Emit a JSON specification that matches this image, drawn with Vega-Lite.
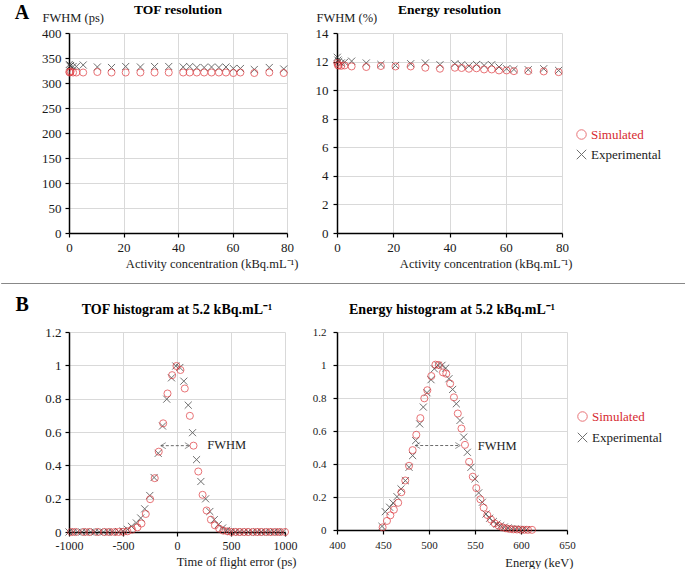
{
  "$schema": "https://vega.github.io/schema/vega-lite/v6.json",
  "background": "white",
  "padding": {"left": 0, "top": 2, "right": 0, "bottom": 0},
  "config": {
    "font": "Liberation Serif",
    "view": {"stroke": null},
    "axis": {
      "domainColor": "#000", "domainWidth": 1.5,
      "tickColor": "#000", "tickWidth": 1.2, "tickSize": 4,
      "gridColor": "#d9d9d9", "gridWidth": 1,
      "labelFont": "Liberation Serif", "labelFontSize": 13, "labelColor": "#1a1a1a",
      "labelPadding": 4, "labelFlush": false, "labelOverlap": false,
      "titleFont": "Liberation Serif", "titleFontSize": 12.5, "titleFontWeight": "normal", "titleColor": "#1a1a1a"
    },
    "title": {"font": "Liberation Serif", "fontSize": 13.5, "fontWeight": "bold", "color": "#000"},
    "legend": {"orient": "none", "title": null, "symbolSize": 90, "symbolStrokeWidth": 1.2, "labelFont": "Liberation Serif", "labelFontSize": 13, "labelOffset": 3,
      "labelColor": {"expr": "datum.label === 'Simulated' ? '#d62a2f' : '#222222'"}},
    "point": {"filled": false, "size": 50, "strokeWidth": 1}
  },
  "datasets": {
    "tofres": [
      {"series": "Experimental", "x": 0.1, "y": 337}, {"series": "Experimental", "x": 0.3, "y": 334}, {"series": "Experimental", "x": 0.6, "y": 335},
      {"series": "Experimental", "x": 1.5, "y": 333}, {"series": "Experimental", "x": 2.7, "y": 333}, {"series": "Experimental", "x": 5.2, "y": 336},
      {"series": "Experimental", "x": 10.4, "y": 332}, {"series": "Experimental", "x": 15.6, "y": 331}, {"series": "Experimental", "x": 20.8, "y": 333},
      {"series": "Experimental", "x": 26.2, "y": 332}, {"series": "Experimental", "x": 31.4, "y": 333}, {"series": "Experimental", "x": 36.6, "y": 333},
      {"series": "Experimental", "x": 41.9, "y": 332}, {"series": "Experimental", "x": 44.3, "y": 333}, {"series": "Experimental", "x": 46.9, "y": 331},
      {"series": "Experimental", "x": 49.6, "y": 331}, {"series": "Experimental", "x": 52.3, "y": 332}, {"series": "Experimental", "x": 55.0, "y": 331},
      {"series": "Experimental", "x": 57.6, "y": 332}, {"series": "Experimental", "x": 60.3, "y": 329}, {"series": "Experimental", "x": 62.9, "y": 329},
      {"series": "Experimental", "x": 68.0, "y": 327}, {"series": "Experimental", "x": 73.5, "y": 331}, {"series": "Experimental", "x": 78.8, "y": 328},
      {"series": "Simulated", "x": 0.1, "y": 322}, {"series": "Simulated", "x": 0.3, "y": 321}, {"series": "Simulated", "x": 0.6, "y": 323},
      {"series": "Simulated", "x": 1.5, "y": 321}, {"series": "Simulated", "x": 2.7, "y": 321}, {"series": "Simulated", "x": 5.2, "y": 321},
      {"series": "Simulated", "x": 10.4, "y": 322}, {"series": "Simulated", "x": 15.6, "y": 321}, {"series": "Simulated", "x": 20.8, "y": 321},
      {"series": "Simulated", "x": 26.2, "y": 321}, {"series": "Simulated", "x": 31.4, "y": 321}, {"series": "Simulated", "x": 36.6, "y": 321},
      {"series": "Simulated", "x": 41.9, "y": 321}, {"series": "Simulated", "x": 44.3, "y": 321}, {"series": "Simulated", "x": 46.9, "y": 321},
      {"series": "Simulated", "x": 49.6, "y": 321}, {"series": "Simulated", "x": 52.3, "y": 321}, {"series": "Simulated", "x": 55.0, "y": 321},
      {"series": "Simulated", "x": 57.6, "y": 321}, {"series": "Simulated", "x": 60.3, "y": 320}, {"series": "Simulated", "x": 62.9, "y": 321},
      {"series": "Simulated", "x": 68.0, "y": 320}, {"series": "Simulated", "x": 73.5, "y": 321}, {"series": "Simulated", "x": 78.8, "y": 320}
    ],
    "enres": [
      {"series": "Experimental", "x": 0.1, "y": 12.3}, {"series": "Experimental", "x": 0.3, "y": 12.1}, {"series": "Experimental", "x": 0.6, "y": 12.0},
      {"series": "Experimental", "x": 1.5, "y": 11.9}, {"series": "Experimental", "x": 2.7, "y": 11.95}, {"series": "Experimental", "x": 5.2, "y": 12.03},
      {"series": "Experimental", "x": 10.4, "y": 11.9}, {"series": "Experimental", "x": 15.6, "y": 11.8}, {"series": "Experimental", "x": 20.8, "y": 11.73},
      {"series": "Experimental", "x": 26.2, "y": 11.85}, {"series": "Experimental", "x": 31.4, "y": 11.9}, {"series": "Experimental", "x": 36.6, "y": 11.78},
      {"series": "Experimental", "x": 41.9, "y": 11.85}, {"series": "Experimental", "x": 44.3, "y": 11.78}, {"series": "Experimental", "x": 46.9, "y": 11.69},
      {"series": "Experimental", "x": 49.6, "y": 11.8}, {"series": "Experimental", "x": 52.3, "y": 11.73}, {"series": "Experimental", "x": 55.0, "y": 11.78},
      {"series": "Experimental", "x": 57.6, "y": 11.62}, {"series": "Experimental", "x": 60.3, "y": 11.5}, {"series": "Experimental", "x": 62.9, "y": 11.45},
      {"series": "Experimental", "x": 68.0, "y": 11.43}, {"series": "Experimental", "x": 73.5, "y": 11.5}, {"series": "Experimental", "x": 78.8, "y": 11.38},
      {"series": "Simulated", "x": 0.1, "y": 11.9}, {"series": "Simulated", "x": 0.3, "y": 11.75}, {"series": "Simulated", "x": 0.6, "y": 11.72},
      {"series": "Simulated", "x": 1.5, "y": 11.7}, {"series": "Simulated", "x": 2.7, "y": 11.73}, {"series": "Simulated", "x": 5.2, "y": 11.66},
      {"series": "Simulated", "x": 10.4, "y": 11.62}, {"series": "Simulated", "x": 15.6, "y": 11.69}, {"series": "Simulated", "x": 20.8, "y": 11.66},
      {"series": "Simulated", "x": 26.2, "y": 11.66}, {"series": "Simulated", "x": 31.4, "y": 11.57}, {"series": "Simulated", "x": 36.6, "y": 11.5},
      {"series": "Simulated", "x": 41.9, "y": 11.57}, {"series": "Simulated", "x": 44.3, "y": 11.55}, {"series": "Simulated", "x": 46.9, "y": 11.5},
      {"series": "Simulated", "x": 49.6, "y": 11.53}, {"series": "Simulated", "x": 52.3, "y": 11.45}, {"series": "Simulated", "x": 55.0, "y": 11.45},
      {"series": "Simulated", "x": 57.6, "y": 11.38}, {"series": "Simulated", "x": 60.3, "y": 11.38}, {"series": "Simulated", "x": 62.9, "y": 11.33},
      {"series": "Simulated", "x": 68.0, "y": 11.33}, {"series": "Simulated", "x": 73.5, "y": 11.31}, {"series": "Simulated", "x": 78.8, "y": 11.26}
    ],
    "tofhist": [
      {"series": "Experimental", "x": -1000, "y": 0}, {"series": "Experimental", "x": -960, "y": 0}, {"series": "Experimental", "x": -920, "y": 0},
      {"series": "Experimental", "x": -880, "y": 0}, {"series": "Experimental", "x": -840, "y": 0}, {"series": "Experimental", "x": -800, "y": 0},
      {"series": "Experimental", "x": -760, "y": 0}, {"series": "Experimental", "x": -720, "y": 0}, {"series": "Experimental", "x": -680, "y": 0},
      {"series": "Experimental", "x": -640, "y": 0}, {"series": "Experimental", "x": -600, "y": 0}, {"series": "Experimental", "x": -540, "y": 0.002},
      {"series": "Experimental", "x": -499, "y": 0.006}, {"series": "Experimental", "x": -459, "y": 0.016}, {"series": "Experimental", "x": -422, "y": 0.034},
      {"series": "Experimental", "x": -376, "y": 0.054}, {"series": "Experimental", "x": -336, "y": 0.084}, {"series": "Experimental", "x": -299, "y": 0.139},
      {"series": "Experimental", "x": -252, "y": 0.219}, {"series": "Experimental", "x": -212, "y": 0.327}, {"series": "Experimental", "x": -174, "y": 0.472},
      {"series": "Experimental", "x": -134, "y": 0.636}, {"series": "Experimental", "x": -95, "y": 0.797}, {"series": "Experimental", "x": -51, "y": 0.925},
      {"series": "Experimental", "x": -11, "y": 0.996}, {"series": "Experimental", "x": 26, "y": 0.987}, {"series": "Experimental", "x": 63, "y": 0.905},
      {"series": "Experimental", "x": 104, "y": 0.761}, {"series": "Experimental", "x": 144, "y": 0.596}, {"series": "Experimental", "x": 181, "y": 0.434},
      {"series": "Experimental", "x": 221, "y": 0.303}, {"series": "Experimental", "x": 265, "y": 0.199}, {"series": "Experimental", "x": 304, "y": 0.123},
      {"series": "Experimental", "x": 345, "y": 0.074}, {"series": "Experimental", "x": 382, "y": 0.044}, {"series": "Experimental", "x": 422, "y": 0.024},
      {"series": "Experimental", "x": 459, "y": 0.010}, {"series": "Experimental", "x": 498, "y": 0.003}, {"series": "Experimental", "x": 538, "y": 0},
      {"series": "Experimental", "x": 578, "y": 0}, {"series": "Experimental", "x": 618, "y": 0}, {"series": "Experimental", "x": 658, "y": 0},
      {"series": "Experimental", "x": 698, "y": 0}, {"series": "Experimental", "x": 738, "y": 0}, {"series": "Experimental", "x": 778, "y": 0},
      {"series": "Experimental", "x": 818, "y": 0}, {"series": "Experimental", "x": 858, "y": 0}, {"series": "Experimental", "x": 898, "y": 0},
      {"series": "Experimental", "x": 938, "y": 0}, {"series": "Experimental", "x": 978, "y": 0},
      {"series": "Simulated", "x": -980, "y": 0}, {"series": "Simulated", "x": -940, "y": 0}, {"series": "Simulated", "x": -860, "y": 0},
      {"series": "Simulated", "x": -812, "y": 0}, {"series": "Simulated", "x": -737, "y": 0}, {"series": "Simulated", "x": -670, "y": 0},
      {"series": "Simulated", "x": -623, "y": 0}, {"series": "Simulated", "x": -577, "y": 0}, {"series": "Simulated", "x": -540, "y": 0},
      {"series": "Simulated", "x": -499, "y": 0.001}, {"series": "Simulated", "x": -459, "y": 0.004}, {"series": "Simulated", "x": -416, "y": 0.014},
      {"series": "Simulated", "x": -366, "y": 0.028}, {"series": "Simulated", "x": -329, "y": 0.051}, {"series": "Simulated", "x": -289, "y": 0.108},
      {"series": "Simulated", "x": -249, "y": 0.197}, {"series": "Simulated", "x": -206, "y": 0.323}, {"series": "Simulated", "x": -169, "y": 0.482},
      {"series": "Simulated", "x": -128, "y": 0.652}, {"series": "Simulated", "x": -88, "y": 0.831}, {"series": "Simulated", "x": -45, "y": 0.941},
      {"series": "Simulated", "x": -5, "y": 0.996}, {"series": "Simulated", "x": 32, "y": 0.972}, {"series": "Simulated", "x": 72, "y": 0.861},
      {"series": "Simulated", "x": 119, "y": 0.697}, {"series": "Simulated", "x": 153, "y": 0.518}, {"series": "Simulated", "x": 197, "y": 0.363},
      {"series": "Simulated", "x": 237, "y": 0.223}, {"series": "Simulated", "x": 274, "y": 0.129}, {"series": "Simulated", "x": 314, "y": 0.074},
      {"series": "Simulated", "x": 351, "y": 0.040}, {"series": "Simulated", "x": 391, "y": 0.020}, {"series": "Simulated", "x": 429, "y": 0.008},
      {"series": "Simulated", "x": 468, "y": 0.004}, {"series": "Simulated", "x": 506, "y": 0}, {"series": "Simulated", "x": 545, "y": 0},
      {"series": "Simulated", "x": 583, "y": 0}, {"series": "Simulated", "x": 623, "y": 0}, {"series": "Simulated", "x": 660, "y": 0},
      {"series": "Simulated", "x": 707, "y": 0}, {"series": "Simulated", "x": 747, "y": 0}, {"series": "Simulated", "x": 784, "y": 0},
      {"series": "Simulated", "x": 830, "y": 0}, {"series": "Simulated", "x": 870, "y": 0}, {"series": "Simulated", "x": 914, "y": 0},
      {"series": "Simulated", "x": 954, "y": 0}, {"series": "Simulated", "x": 1000, "y": 0}
    ],
    "enhist": [
      {"series": "Experimental", "x": 448.9, "y": 0.022}, {"series": "Experimental", "x": 452.5, "y": 0.111}, {"series": "Experimental", "x": 457.2, "y": 0.138},
      {"series": "Experimental", "x": 460.9, "y": 0.164}, {"series": "Experimental", "x": 465.2, "y": 0.202}, {"series": "Experimental", "x": 469.6, "y": 0.249},
      {"series": "Experimental", "x": 474.3, "y": 0.299}, {"series": "Experimental", "x": 478.3, "y": 0.380}, {"series": "Experimental", "x": 482.2, "y": 0.451},
      {"series": "Experimental", "x": 485.5, "y": 0.542}, {"series": "Experimental", "x": 489.9, "y": 0.643}, {"series": "Experimental", "x": 493.8, "y": 0.745},
      {"series": "Experimental", "x": 497.8, "y": 0.832}, {"series": "Experimental", "x": 502.2, "y": 0.911}, {"series": "Experimental", "x": 505.8, "y": 0.977},
      {"series": "Experimental", "x": 509.8, "y": 0.998}, {"series": "Experimental", "x": 514.1, "y": 0.998}, {"series": "Experimental", "x": 518.1, "y": 0.981},
      {"series": "Experimental", "x": 521.7, "y": 0.917}, {"series": "Experimental", "x": 525.7, "y": 0.852}, {"series": "Experimental", "x": 529.7, "y": 0.765},
      {"series": "Experimental", "x": 533.7, "y": 0.664}, {"series": "Experimental", "x": 537.7, "y": 0.563}, {"series": "Experimental", "x": 541.7, "y": 0.471},
      {"series": "Experimental", "x": 545.6, "y": 0.380}, {"series": "Experimental", "x": 550.0, "y": 0.310}, {"series": "Experimental", "x": 554.0, "y": 0.225},
      {"series": "Experimental", "x": 558.0, "y": 0.168}, {"series": "Experimental", "x": 562.0, "y": 0.097}, {"series": "Experimental", "x": 565.9, "y": 0.071},
      {"series": "Experimental", "x": 569.9, "y": 0.051}, {"series": "Experimental", "x": 573.9, "y": 0.036}, {"series": "Experimental", "x": 577.9, "y": 0.026},
      {"series": "Experimental", "x": 581.9, "y": 0.018}, {"series": "Experimental", "x": 585.9, "y": 0.012}, {"series": "Experimental", "x": 589.9, "y": 0.008},
      {"series": "Experimental", "x": 593.8, "y": 0.006}, {"series": "Experimental", "x": 597.8, "y": 0.004}, {"series": "Experimental", "x": 601.8, "y": 0.003},
      {"series": "Experimental", "x": 605.8, "y": 0.002},
      {"series": "Simulated", "x": 449.6, "y": 0.016}, {"series": "Simulated", "x": 454.3, "y": 0.055}, {"series": "Simulated", "x": 458.0, "y": 0.089},
      {"series": "Simulated", "x": 461.8, "y": 0.123}, {"series": "Simulated", "x": 466.5, "y": 0.165}, {"series": "Simulated", "x": 470.0, "y": 0.229},
      {"series": "Simulated", "x": 474.2, "y": 0.300}, {"series": "Simulated", "x": 478.3, "y": 0.389}, {"series": "Simulated", "x": 482.2, "y": 0.484},
      {"series": "Simulated", "x": 486.2, "y": 0.577}, {"series": "Simulated", "x": 490.6, "y": 0.678}, {"series": "Simulated", "x": 494.9, "y": 0.798},
      {"series": "Simulated", "x": 498.2, "y": 0.847}, {"series": "Simulated", "x": 502.5, "y": 0.933}, {"series": "Simulated", "x": 507.0, "y": 1.002},
      {"series": "Simulated", "x": 510.7, "y": 1.0}, {"series": "Simulated", "x": 515.2, "y": 0.955}, {"series": "Simulated", "x": 518.8, "y": 0.947},
      {"series": "Simulated", "x": 523.0, "y": 0.887}, {"series": "Simulated", "x": 527.1, "y": 0.804}, {"series": "Simulated", "x": 531.3, "y": 0.706},
      {"series": "Simulated", "x": 535.3, "y": 0.615}, {"series": "Simulated", "x": 539.1, "y": 0.516}, {"series": "Simulated", "x": 543.6, "y": 0.413},
      {"series": "Simulated", "x": 547.6, "y": 0.323}, {"series": "Simulated", "x": 551.4, "y": 0.254}, {"series": "Simulated", "x": 555.8, "y": 0.186},
      {"series": "Simulated", "x": 559.4, "y": 0.135}, {"series": "Simulated", "x": 563.4, "y": 0.091}, {"series": "Simulated", "x": 567.4, "y": 0.063},
      {"series": "Simulated", "x": 571.4, "y": 0.040}, {"series": "Simulated", "x": 575.7, "y": 0.026}, {"series": "Simulated", "x": 579.7, "y": 0.016},
      {"series": "Simulated", "x": 583.7, "y": 0.010}, {"series": "Simulated", "x": 587.7, "y": 0.006}, {"series": "Simulated", "x": 591.7, "y": 0.004},
      {"series": "Simulated", "x": 595.6, "y": 0.003}, {"series": "Simulated", "x": 599.6, "y": 0.002}, {"series": "Simulated", "x": 603.6, "y": 0.001},
      {"series": "Simulated", "x": 607.6, "y": 0.001}, {"series": "Simulated", "x": 612.0, "y": 0.001}
    ]
  },
  "columns": 2,
  "bounds": "flush",
  "spacing": {"row": 99, "column": 50},
  "resolve": {"scale": {"color": "independent", "shape": "independent"}},
  "concat": [
    {
      "width": 218, "height": 200,
      "title": {"text": "TOF resolution", "offset": -14},
      "layer": [
        {
          "data": {"name": "tofres"},
          "mark": {"type": "point"},
          "encoding": {
            "x": {"field": "x", "type": "quantitative", "scale": {"domain": [0, 80], "nice": false},
              "axis": {"values": [0, 20, 40, 60, 80], "title": "Activity concentration (kBq.mL⁻¹)", "titleAlign": "right", "titleBaseline": "middle", "titleX": 229, "titleY": 30}},
            "y": {"field": "y", "type": "quantitative", "scale": {"domain": [0, 400], "nice": false},
              "axis": {"values": [0, 50, 100, 150, 200, 250, 300, 350, 400], "title": "FWHM (ps)", "titleAngle": 0, "titleAlign": "left", "titleBaseline": "middle", "titleX": -27, "titleY": -16}},
            "color": {"field": "series", "type": "nominal", "scale": {"domain": ["Simulated", "Experimental"], "range": ["#e0393e", "#333333"]}, "legend": null},
            "shape": {"field": "series", "type": "nominal", "scale": {"domain": ["Simulated", "Experimental"], "range": ["circle", "M-1,-1L1,1M-1,1L1,-1"]}, "legend": null}
          }
        },
        {
          "data": {"values": [{}]},
          "mark": {"type": "text", "text": "A", "font": "Liberation Serif", "fontSize": 20, "fontWeight": "bold", "color": "#000"},
          "encoding": {
            "x": {"datum": -17.3, "type": "quantitative", "scale": {"domain": [0, 80], "nice": false},
              "axis": {"values": [0, 20, 40, 60, 80], "title": "Activity concentration (kBq.mL⁻¹)", "titleAlign": "right", "titleBaseline": "middle", "titleX": 229, "titleY": 30}},
            "y": {"datum": 441, "type": "quantitative", "scale": {"domain": [0, 400], "nice": false},
              "axis": {"values": [0, 50, 100, 150, 200, 250, 300, 350, 400], "title": "FWHM (ps)", "titleAngle": 0, "titleAlign": "left", "titleBaseline": "middle", "titleX": -27, "titleY": -16}}
          }
        }
      ]
    },
    {
      "width": 225, "height": 200,
      "title": {"text": "Energy resolution", "offset": -5},
      "data": {"name": "enres"},
      "mark": {"type": "point"},
      "encoding": {
        "x": {"field": "x", "type": "quantitative", "scale": {"domain": [0, 80], "nice": false},
          "axis": {"values": [0, 20, 40, 60, 80], "title": "Activity concentration (kBq.mL⁻¹)", "titleAlign": "right", "titleBaseline": "middle", "titleX": 235, "titleY": 30}},
        "y": {"field": "y", "type": "quantitative", "scale": {"domain": [0, 14], "nice": false},
          "axis": {"values": [0, 2, 4, 6, 8, 10, 12, 14], "labelPadding": 5, "title": "FWHM (%)", "titleAngle": 0, "titleAlign": "left", "titleBaseline": "middle", "titleX": -21, "titleY": -16}},
        "color": {"field": "series", "type": "nominal", "scale": {"domain": ["Simulated", "Experimental"], "range": ["#e0393e", "#333333"]},
          "legend": {"legendX": 238, "legendY": 95, "rowPadding": 5}},
        "shape": {"field": "series", "type": "nominal", "scale": {"domain": ["Simulated", "Experimental"], "range": ["circle", "M-1,-1L1,1M-1,1L1,-1"]},
          "legend": {"legendX": 238, "legendY": 95, "rowPadding": 5}}
      }
    },
    {
      "width": 216, "height": 200,
      "title": {"text": "TOF histogram at 5.2 kBq.mL⁻¹", "fontSize": 14, "offset": -34},
      "layer": [
        {
          "data": {"name": "tofhist"},
          "mark": {"type": "point"},
          "encoding": {
            "x": {"field": "x", "type": "quantitative", "scale": {"domain": [-1000, 1000], "nice": false},
              "axis": {"values": [-1000, -500, 0, 500, 1000], "labelExpr": "toString(datum.value)", "labelFontSize": 12, "title": "Time of flight error (ps)", "titleAlign": "right", "titleBaseline": "middle", "titleX": 227, "titleY": 29}},
            "y": {"field": "y", "type": "quantitative", "scale": {"domain": [0, 1.2], "nice": false},
              "axis": {"values": [0, 0.2, 0.4, 0.6, 0.8, 1, 1.2], "format": ".1~f", "title": null}},
            "color": {"field": "series", "type": "nominal", "scale": {"domain": ["Simulated", "Experimental"], "range": ["#e0393e", "#333333"]}, "legend": null},
            "shape": {"field": "series", "type": "nominal", "scale": {"domain": ["Simulated", "Experimental"], "range": ["circle", "M-1,-1L1,1M-1,1L1,-1"]}, "legend": null}
          }
        },
        {
          "data": {"values": [{}]},
          "mark": {"type": "rule", "color": "#444444", "strokeWidth": 0.8, "strokeDash": [3, 2]},
          "encoding": {
            "x": {"datum": -150, "type": "quantitative", "scale": {"domain": [-1000, 1000], "nice": false},
              "axis": {"values": [-1000, -500, 0, 500, 1000], "labelExpr": "toString(datum.value)", "labelFontSize": 12, "title": "Time of flight error (ps)", "titleAlign": "right", "titleBaseline": "middle", "titleX": 227, "titleY": 29}},
            "x2": {"datum": 119},
            "y": {"datum": 0.518, "type": "quantitative", "scale": {"domain": [0, 1.2], "nice": false},
              "axis": {"values": [0, 0.2, 0.4, 0.6, 0.8, 1, 1.2], "format": ".1~f", "title": null}}
          }
        },
        {
          "data": {"values": [{}]},
          "mark": {"type": "point", "shape": "M2,-1.2L0,0L2,1.2", "size": 25, "filled": false, "color": "#444444", "strokeWidth": 0.8},
          "encoding": {
            "x": {"datum": -150, "type": "quantitative", "scale": {"domain": [-1000, 1000], "nice": false},
              "axis": {"values": [-1000, -500, 0, 500, 1000], "labelExpr": "toString(datum.value)", "labelFontSize": 12, "title": "Time of flight error (ps)", "titleAlign": "right", "titleBaseline": "middle", "titleX": 227, "titleY": 29}},
            "y": {"datum": 0.518, "type": "quantitative", "scale": {"domain": [0, 1.2], "nice": false},
              "axis": {"values": [0, 0.2, 0.4, 0.6, 0.8, 1, 1.2], "format": ".1~f", "title": null}}
          }
        },
        {
          "data": {"values": [{}]},
          "mark": {"type": "point", "shape": "M-2,-1.2L0,0L-2,1.2", "size": 25, "filled": false, "color": "#444444", "strokeWidth": 0.8},
          "encoding": {
            "x": {"datum": 119, "type": "quantitative", "scale": {"domain": [-1000, 1000], "nice": false},
              "axis": {"values": [-1000, -500, 0, 500, 1000], "labelExpr": "toString(datum.value)", "labelFontSize": 12, "title": "Time of flight error (ps)", "titleAlign": "right", "titleBaseline": "middle", "titleX": 227, "titleY": 29}},
            "y": {"datum": 0.518, "type": "quantitative", "scale": {"domain": [0, 1.2], "nice": false},
              "axis": {"values": [0, 0.2, 0.4, 0.6, 0.8, 1, 1.2], "format": ".1~f", "title": null}}
          }
        },
        {
          "data": {"values": [{}]},
          "mark": {"type": "text", "text": "FWHM", "align": "left", "baseline": "middle", "font": "Liberation Serif", "fontSize": 12.5, "color": "#222222"},
          "encoding": {
            "x": {"datum": 280, "type": "quantitative", "scale": {"domain": [-1000, 1000], "nice": false},
              "axis": {"values": [-1000, -500, 0, 500, 1000], "labelExpr": "toString(datum.value)", "labelFontSize": 12, "title": "Time of flight error (ps)", "titleAlign": "right", "titleBaseline": "middle", "titleX": 227, "titleY": 29}},
            "y": {"datum": 0.52, "type": "quantitative", "scale": {"domain": [0, 1.2], "nice": false},
              "axis": {"values": [0, 0.2, 0.4, 0.6, 0.8, 1, 1.2], "format": ".1~f", "title": null}}
          }
        },
        {
          "data": {"values": [{}]},
          "mark": {"type": "text", "text": "B", "font": "Liberation Serif", "fontSize": 20, "fontWeight": "bold", "color": "#000"},
          "encoding": {
            "x": {"datum": -1433, "type": "quantitative", "scale": {"domain": [-1000, 1000], "nice": false},
              "axis": {"values": [-1000, -500, 0, 500, 1000], "labelExpr": "toString(datum.value)", "labelFontSize": 12, "title": "Time of flight error (ps)", "titleAlign": "right", "titleBaseline": "middle", "titleX": 227, "titleY": 29}},
            "y": {"datum": 1.365, "type": "quantitative", "scale": {"domain": [0, 1.2], "nice": false},
              "axis": {"values": [0, 0.2, 0.4, 0.6, 0.8, 1, 1.2], "format": ".1~f", "title": null}}
          }
        },
        {
          "data": {"values": [{}]},
          "mark": {"type": "rule", "color": "#888888", "strokeWidth": 1},
          "encoding": {
            "x": {"datum": -1628, "type": "quantitative", "scale": {"domain": [-1000, 1000], "nice": false},
              "axis": {"values": [-1000, -500, 0, 500, 1000], "labelExpr": "toString(datum.value)", "labelFontSize": 12, "title": "Time of flight error (ps)", "titleAlign": "right", "titleBaseline": "middle", "titleX": 227, "titleY": 29}},
            "x2": {"datum": 4726},
            "y": {"datum": 1.491, "type": "quantitative", "scale": {"domain": [0, 1.2], "nice": false},
              "axis": {"values": [0, 0.2, 0.4, 0.6, 0.8, 1, 1.2], "format": ".1~f", "title": null}}
          }
        }
      ]
    },
    {
      "width": 230, "height": 198,
      "title": {"text": "Energy histogram at 5.2 kBq.mL⁻¹", "fontSize": 14, "offset": 9},
      "layer": [
        {
          "data": {"name": "enhist"},
          "mark": {"type": "point"},
          "encoding": {
            "x": {"field": "x", "type": "quantitative", "scale": {"domain": [400, 650], "nice": false},
              "axis": {"values": [400, 450, 500, 550, 600, 650], "labelFont": "Liberation Sans Narrow", "labelFontSize": 11, "labelPadding": 5, "title": "Energy (keV)", "titleAlign": "right", "titleBaseline": "middle", "titleX": 236, "titleY": 32}},
            "y": {"field": "y", "type": "quantitative", "scale": {"domain": [0, 1.2], "nice": false},
              "axis": {"values": [0, 0.2, 0.4, 0.6, 0.8, 1, 1.2], "format": ".1~f", "labelFont": "Liberation Sans Narrow", "labelFontSize": 11, "labelPadding": 7, "title": null}},
            "color": {"field": "series", "type": "nominal", "scale": {"domain": ["Simulated", "Experimental"], "range": ["#e0393e", "#333333"]},
              "legend": {"legendX": 239, "legendY": 78, "rowPadding": 6}},
            "shape": {"field": "series", "type": "nominal", "scale": {"domain": ["Simulated", "Experimental"], "range": ["circle", "M-1,-1L1,1M-1,1L1,-1"]},
              "legend": {"legendX": 239, "legendY": 78, "rowPadding": 6}}
          }
        },
        {
          "data": {"values": [{}]},
          "mark": {"type": "rule", "color": "#444444", "strokeWidth": 0.8, "strokeDash": [3, 2]},
          "encoding": {
            "x": {"datum": 485, "type": "quantitative", "scale": {"domain": [400, 650], "nice": false},
              "axis": {"values": [400, 450, 500, 550, 600, 650], "labelFont": "Liberation Sans Narrow", "labelFontSize": 11, "labelPadding": 5, "title": "Energy (keV)", "titleAlign": "right", "titleBaseline": "middle", "titleX": 236, "titleY": 32}},
            "x2": {"datum": 534},
            "y": {"datum": 0.512, "type": "quantitative", "scale": {"domain": [0, 1.2], "nice": false},
              "axis": {"values": [0, 0.2, 0.4, 0.6, 0.8, 1, 1.2], "format": ".1~f", "labelFont": "Liberation Sans Narrow", "labelFontSize": 11, "labelPadding": 7, "title": null}}
          }
        },
        {
          "data": {"values": [{}]},
          "mark": {"type": "point", "shape": "M2,-1.2L0,0L2,1.2", "size": 25, "filled": false, "color": "#444444", "strokeWidth": 0.8},
          "encoding": {
            "x": {"datum": 485, "type": "quantitative", "scale": {"domain": [400, 650], "nice": false},
              "axis": {"values": [400, 450, 500, 550, 600, 650], "labelFont": "Liberation Sans Narrow", "labelFontSize": 11, "labelPadding": 5, "title": "Energy (keV)", "titleAlign": "right", "titleBaseline": "middle", "titleX": 236, "titleY": 32}},
            "y": {"datum": 0.512, "type": "quantitative", "scale": {"domain": [0, 1.2], "nice": false},
              "axis": {"values": [0, 0.2, 0.4, 0.6, 0.8, 1, 1.2], "format": ".1~f", "labelFont": "Liberation Sans Narrow", "labelFontSize": 11, "labelPadding": 7, "title": null}}
          }
        },
        {
          "data": {"values": [{}]},
          "mark": {"type": "point", "shape": "M-2,-1.2L0,0L-2,1.2", "size": 25, "filled": false, "color": "#444444", "strokeWidth": 0.8},
          "encoding": {
            "x": {"datum": 534, "type": "quantitative", "scale": {"domain": [400, 650], "nice": false},
              "axis": {"values": [400, 450, 500, 550, 600, 650], "labelFont": "Liberation Sans Narrow", "labelFontSize": 11, "labelPadding": 5, "title": "Energy (keV)", "titleAlign": "right", "titleBaseline": "middle", "titleX": 236, "titleY": 32}},
            "y": {"datum": 0.512, "type": "quantitative", "scale": {"domain": [0, 1.2], "nice": false},
              "axis": {"values": [0, 0.2, 0.4, 0.6, 0.8, 1, 1.2], "format": ".1~f", "labelFont": "Liberation Sans Narrow", "labelFontSize": 11, "labelPadding": 7, "title": null}}
          }
        },
        {
          "data": {"values": [{}]},
          "mark": {"type": "text", "text": "FWHM", "align": "left", "baseline": "middle", "font": "Liberation Serif", "fontSize": 12.5, "color": "#222222"},
          "encoding": {
            "x": {"datum": 553, "type": "quantitative", "scale": {"domain": [400, 650], "nice": false},
              "axis": {"values": [400, 450, 500, 550, 600, 650], "labelFont": "Liberation Sans Narrow", "labelFontSize": 11, "labelPadding": 5, "title": "Energy (keV)", "titleAlign": "right", "titleBaseline": "middle", "titleX": 236, "titleY": 32}},
            "y": {"datum": 0.51, "type": "quantitative", "scale": {"domain": [0, 1.2], "nice": false},
              "axis": {"values": [0, 0.2, 0.4, 0.6, 0.8, 1, 1.2], "format": ".1~f", "labelFont": "Liberation Sans Narrow", "labelFontSize": 11, "labelPadding": 7, "title": null}}
          }
        }
      ]
    }
  ]
}
